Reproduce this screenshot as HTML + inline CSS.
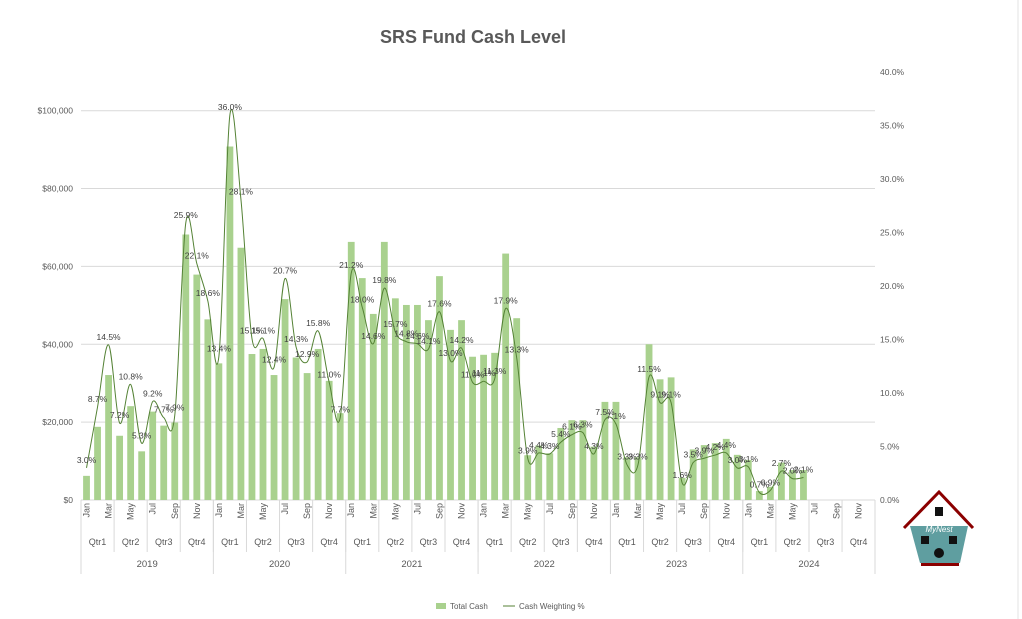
<!DOCTYPE html>
<html><head><meta charset="utf-8"><style>
body{margin:0;background:#fff;}
svg{display:block;font-family:"Liberation Sans",sans-serif;}
</style></head><body>
<svg id="c" width="1022" height="619" viewBox="0 0 1022 619" xmlns="http://www.w3.org/2000/svg">
<rect width="1022" height="619" fill="#fff"/>
<line x1="1018" y1="0" x2="1018" y2="619" stroke="#e3e3e3"/>
<text x="473" y="43" text-anchor="middle" font-size="18" font-weight="bold" fill="#595959">SRS Fund Cash Level</text>
<g id="grid" stroke="#d9d9d9" stroke-width="1"></g>
<g id="bars" fill="#a9d18e"></g>
<path id="line" fill="none" stroke="#548235" stroke-width="1"/>
<g id="lbl" font-size="8.5" fill="#404040" text-anchor="middle"></g>
<g id="ax" font-size="8.5" fill="#595959"></g>
<g transform="translate(0,0)">
<rect x="436" y="603" width="10" height="6" fill="#a9d18e"/>
<text x="450" y="609" font-size="8" fill="#595959">Total Cash</text>
<line x1="503" y1="606" x2="515" y2="606" stroke="#548235"/>
<text x="519" y="609" font-size="8" fill="#595959">Cash Weighting %</text>
</g>
<polygon points="910,526 968,526 960,563 920,563" fill="#5f9ea0"/>
<polyline points="904,528 939,492 973,528" fill="none" stroke="#8b0000" stroke-width="3"/>
<rect x="921" y="563" width="38" height="3" fill="#8b0000"/>
<rect x="935" y="507" width="8" height="9" fill="#111"/>
<rect x="921" y="536" width="8" height="8" fill="#111"/>
<rect x="949" y="536" width="8" height="8" fill="#111"/>
<circle cx="939" cy="553" r="5" fill="#111"/>
<text x="939" y="532" font-size="8" font-style="italic" fill="#fff" text-anchor="middle">MyNest</text>
</svg>
<script>
var cash=[6.2,18.8,32.1,16.5,24.1,12.5,22.7,19.1,19.9,68.2,57.9,46.4,
35.1,90.8,64.8,37.5,38.8,32.1,51.6,36.6,32.6,38.8,30.6,22.3,
66.3,57,47.8,66.3,51.8,50.1,50.1,46.2,57.5,43.7,46.2,36.8,
37.3,37.8,63.3,46.7,11.5,14,12,18.5,20.5,20.5,13.7,25.2,
25.2,11,11,40,31,31.5,5.7,13,14.1,14.6,15.7,11.6,
10.3,2.3,3.4,9.6,7.7,7.7];
var pct=[3.0,8.7,14.5,7.2,10.8,5.3,9.2,7.7,7.9,25.9,22.1,18.6,
13.4,36.0,28.1,15.1,15.1,12.4,20.7,14.3,12.9,15.8,11.0,7.7,
21.2,18.0,14.6,19.8,15.7,14.8,14.6,14.1,17.6,13.0,14.2,11.0,
11.1,11.3,17.9,13.3,3.9,4.4,4.3,5.4,6.1,6.3,4.3,7.5,
7.1,3.3,3.3,11.5,9.1,9.1,1.6,3.5,3.9,4.2,4.4,3.0,
3.1,0.7,0.9,2.7,2.0,2.1];
var NS="http://www.w3.org/2000/svg";
function el(p,t,a,txt){var e=document.createElementNS(NS,t);for(var k in a)e.setAttribute(k,a[k]);if(txt!=null)e.textContent=txt;document.getElementById(p).appendChild(e);return e;}
var L=81,W=11.03,Y0=500,KS=3.893,PS=10.7;
function cx(i){return L+W*(i+0.5);}
for(var g=1;g<=5;g++){var y=Y0-g*20*KS;el("grid","line",{x1:L,x2:875,y1:y,y2:y});}
el("grid","line",{x1:L,x2:875,y1:500,y2:500});
cash.forEach(function(v,i){el("bars","rect",{x:cx(i)-3.4,y:Y0-v*KS,width:6.8,height:v*KS});});
var P=pct.map(function(v,i){return [cx(i),Y0-v*PS];});
var d="M"+P[0][0]+","+P[0][1];
for(var i=0;i<P.length-1;i++){var p0=P[i-1]||P[i],p1=P[i],p2=P[i+1],p3=P[i+2]||p2;
d+=" C"+(p1[0]+(p2[0]-p0[0])/6)+","+(p1[1]+(p2[1]-p0[1])/6)+" "+(p2[0]-(p3[0]-p1[0])/6)+","+(p2[1]-(p3[1]-p1[1])/6)+" "+p2[0]+","+p2[1];}
document.getElementById("line").setAttribute("d",d);
pct.forEach(function(v,i){el("lbl","text",{x:cx(i),y:Y0-v*PS-5},v.toFixed(1)+"%");});
var lv=["$0","$20,000","$40,000","$60,000","$80,000","$100,000"];
lv.forEach(function(t,g){el("ax","text",{x:73,y:Y0-g*20*KS+3,"text-anchor":"end"},t);});
for(var g=0;g<=8;g++){el("ax","text",{x:880,y:Y0-g*5*PS+3},(g*5).toFixed(1)+"%");}
var mn=["Jan","Mar","May","Jul","Sep","Nov"];
for(var y=0;y<6;y++){
 for(var m=0;m<6;m++){var x=cx(y*12+m*2)+3;el("ax","text",{x:x,y:503,transform:"rotate(-90 "+x+" 503)","text-anchor":"end","font-size":"9"},mn[m]);}
 for(var q=0;q<4;q++){var qx=L+W*(y*12+q*3);el("grid","line",{x1:qx,x2:qx,y1:500,y2:552});
  el("ax","text",{x:qx+W*1.5,y:545,"text-anchor":"middle","font-size":"9"},"Qtr"+(q+1));}
 var yx=L+W*12*y;el("grid","line",{x1:yx,x2:yx,y1:500,y2:574});
 el("ax","text",{x:yx+W*6,y:567,"text-anchor":"middle","font-size":"9.5"},String(2019+y));
}
el("grid","line",{x1:875,x2:875,y1:500,y2:574});
</script>
</body></html>
